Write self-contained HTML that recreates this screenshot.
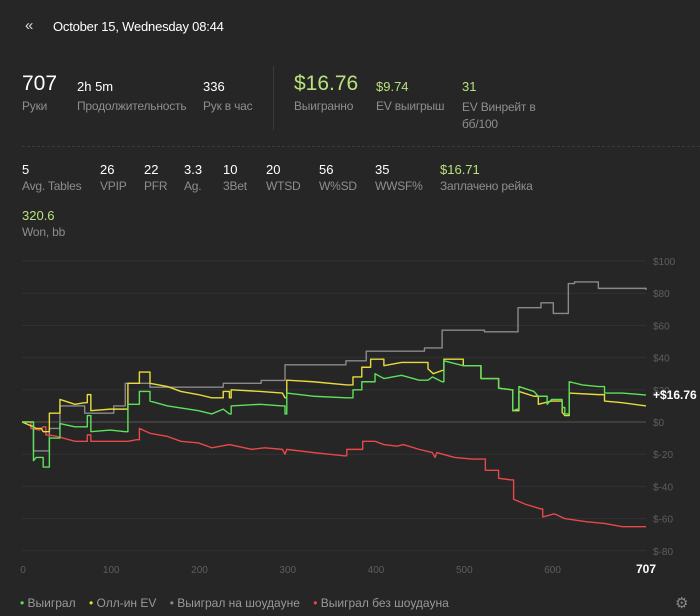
<!DOCTYPE html>
<html><head><meta charset="utf-8"><style>
body{margin:0;width:700px;height:616px;background:#262626;font-family:"Liberation Sans","Noto Sans CJK SC",sans-serif;overflow:hidden;position:relative;color:#fff}
.t{position:absolute;white-space:nowrap}
.v{font-size:13px;color:#fff}
.l{font-size:12px;color:#8e8e8e;letter-spacing:-0.2px}
.g{color:#b9e27c}
</style></head><body>
<div class="t" style="left:25px;top:17px;font-size:15px;color:#ddd">«</div>
<div class="t" style="left:53px;top:19px;font-size:13px;color:#fff;letter-spacing:-0.2px">October 15, Wednesday 08:44</div>

<div class="t" style="left:22px;top:72px;font-size:21px">707</div>
<div class="t l" style="left:22px;top:99px">Руки</div>
<div class="t v" style="left:77px;top:79px">2h 5m</div>
<div class="t l" style="left:77px;top:99px">Продолжительность</div>
<div class="t v" style="left:203px;top:79px">336</div>
<div class="t l" style="left:203px;top:99px">Рук в час</div>
<div class="t" style="left:273px;top:66px;width:1px;height:64px;background:#3a3a3a"></div>
<div class="t g" style="left:294px;top:72px;font-size:21px">$16.76</div>
<div class="t l" style="left:294px;top:99px">Выигранно</div>
<div class="t v g" style="left:376px;top:79px">$9.74</div>
<div class="t l" style="left:376px;top:99px">EV выигрыш</div>
<div class="t v g" style="left:462px;top:79px">31</div>
<div class="t l" style="left:462px;top:99px;line-height:17px">EV Винрейт в<br>бб/100</div>
<div class="t" style="left:22px;top:146px;width:678px;border-top:1px dashed #3a3a3a"></div>

<div class="t v" style="left:22px;top:162px">5</div>
<div class="t l" style="left:22px;top:179px">Avg. Tables</div>
<div class="t v" style="left:100px;top:162px">26</div>
<div class="t l" style="left:100px;top:179px">VPIP</div>
<div class="t v" style="left:144px;top:162px">22</div>
<div class="t l" style="left:144px;top:179px">PFR</div>
<div class="t v" style="left:184px;top:162px">3.3</div>
<div class="t l" style="left:184px;top:179px">Ag.</div>
<div class="t v" style="left:223px;top:162px">10</div>
<div class="t l" style="left:223px;top:179px">3Bet</div>
<div class="t v" style="left:266px;top:162px">20</div>
<div class="t l" style="left:266px;top:179px">WTSD</div>
<div class="t v" style="left:319px;top:162px">56</div>
<div class="t l" style="left:319px;top:179px">W%SD</div>
<div class="t v" style="left:375px;top:162px">35</div>
<div class="t l" style="left:375px;top:179px">WWSF%</div>
<div class="t v g" style="left:440px;top:162px">$16.71</div>
<div class="t l" style="left:440px;top:179px">Заплачено рейка</div>
<div class="t v g" style="left:22px;top:208px">320.6</div>
<div class="t l" style="left:22px;top:225px">Won, bb</div>

<svg id="chart" width="700" height="616" style="position:absolute;left:0;top:0" xmlns="http://www.w3.org/2000/svg"></svg>

<script>
const yTicks=[100,80,60,40,20,0,-20,-40,-60,-80];
const xTicks=[0,100,200,300,400,500,600];
const totalHands=707;
const finalLabel="+$16.76";
const wonX=[0,13,16,22,24,29,31,43,60,71,74,78,100,117,120,133,145,165,200,215,228,235,237,270,295,298,300,330,368,375,385,400,410,430,450,460,465,476,478,500,520,540,555,556,561,563,580,585,595,600,612,615,618,620,635,653,660,680,707];
const wonY=[0,-24,-22,-22,-28,-28,-10,-1,-3,-3,4,-6,-5,-6,11,19,13,10,7,5,8,5,10,11,10,5,18,16,15,20,25,30,27,29,26,26,28,25,38,35,27,21,20,7,8,22,19,16,11,14,9,5,5,25,23,22,18,18,16.76];
const evX=[0,13,16,22,24,29,31,43,60,71,74,78,100,117,120,133,145,165,180,200,215,228,235,237,270,295,298,300,330,368,375,385,395,410,430,460,466,476,478,500,520,540,555,556,563,580,585,600,612,615,619,620,653,660,680,707];
const evY=[0,-3,-4,-4,-6,-6,5.5,14,11,12,17,7,8,8,24,31,24,22,19,17,15,19,15,20,19,18,15,26,25,23,28,34,39,35,37,33,30,32,39,35,27,21,20,7,19,16,11,13,6,4,4,18,17,13,12,10];
const sdX=[0,13,29,31,43,71,104,117,145,228,271,298,367,390,456,476,524,562,588,602,619,626,653,707];
const sdY=[0,-18,-18,-4,10,5.5,10,24,21.6,24,25.8,35.5,38,44,46,57,56,71,74,67.4,86,87,83,82];
const nsdX=[0,10,20,24,27,30,40,60,72,74,78,100,120,130,133,145,165,180,200,215,235,260,275,295,298,300,330,365,368,380,386,400,410,425,432,450,465,468,470,490,510,525,540,555,557,570,588,590,603,615,640,660,680,707];
const nsdY=[0,-4,-5,-3,-8,-8,-9,-12,-12,-8,-12,-12,-12,-11,-4,-7,-9,-12,-13,-16,-14,-17,-16,-17,-20,-17,-19,-21,-17,-17,-12,-12,-14,-15,-14,-17,-19,-22,-19,-22,-23,-30,-35,-36,-48,-51,-54,-59,-57,-60,-62,-63,-65,-65];

const svg=document.getElementById('chart');
const NS='http://www.w3.org/2000/svg';
const X0=22,X1=646,Y100=261,Y0=422;
const sx=i=>X0+(X1-X0)*i/totalHands;
const sy=v=>Y0-(Y0-Y100)*v/100;
function mk(tag,at){const e=document.createElementNS(NS,tag);for(const k in at)e.setAttribute(k,at[k]);svg.appendChild(e);return e;}
yTicks.forEach(v=>{
  const ln=mk('line',{x1:X0,x2:X1,y1:sy(v),y2:sy(v),stroke:v===0?'#555':'#323232','stroke-width':1});
  
  
  const t=mk('text',{x:653,y:sy(v)+4,fill:'#5e5e5e','font-size':10,'font-family':'Liberation Sans'});
  t.textContent=(v<0?'$-'+(-v):'$'+v);
  
  
});
xTicks.forEach(v=>{
  const t=mk('text',{x:sx(v)+1,y:573,fill:'#5e5e5e','font-size':10,'text-anchor':'middle','font-family':'Liberation Sans'});
  t.textContent=v;
  
  
});
const tEnd=mk('text',{x:sx(totalHands),y:573,fill:'#fff','font-size':12,'font-weight':'bold','text-anchor':'middle','font-family':'Liberation Sans'});
tEnd.textContent=totalHands;


function series(xs,ys,col,name,stepAll){
  let d='M'+sx(xs[0])+','+sy(ys[0]);
  for(let i=1;i<xs.length;i++){
    if(stepAll||Math.abs(ys[i]-ys[i-1])>3.5){d+=' H'+sx(xs[i])+' V'+sy(ys[i]);}
    else{d+=' L'+sx(xs[i])+','+sy(ys[i]);}
  }
  const p=mk('path',{d:d,fill:'none',stroke:col,'stroke-width':1.4,'stroke-linejoin':'round'});
  
  
}
series(sdX,sdY,'#8a8a8a','showdown-line',true);
series(nsdX,nsdY,'#e84848','non-showdown-line',false);
series(evX,evY,'#e6dc3c','allin-ev-line',false);
series(wonX,wonY,'#5ee05a','won-line',false);
const fl=mk('text',{x:653,y:sy(wonY[wonY.length-1])+4,fill:'#fff','font-size':12,'font-weight':'bold','font-family':'Liberation Sans'});
fl.textContent=finalLabel;


</script>

<div class="t" style="left:20px;top:596px;font-size:12px;color:#999">
<span><span style="color:#5ee05a">•</span> Выиграл</span>&nbsp;&nbsp;&nbsp;
<span><span style="color:#e6dc3c">•</span> Олл-ин EV</span>&nbsp;&nbsp;&nbsp;
<span><span style="color:#8a8a8a">•</span> Выиграл на шоудауне</span>&nbsp;&nbsp;&nbsp;
<span><span style="color:#e84848">•</span> Выиграл без шоудауна</span>
</div>
<div class="t" style="left:675px;top:594px;font-size:15px;color:#888">⚙</div>
</body></html>
